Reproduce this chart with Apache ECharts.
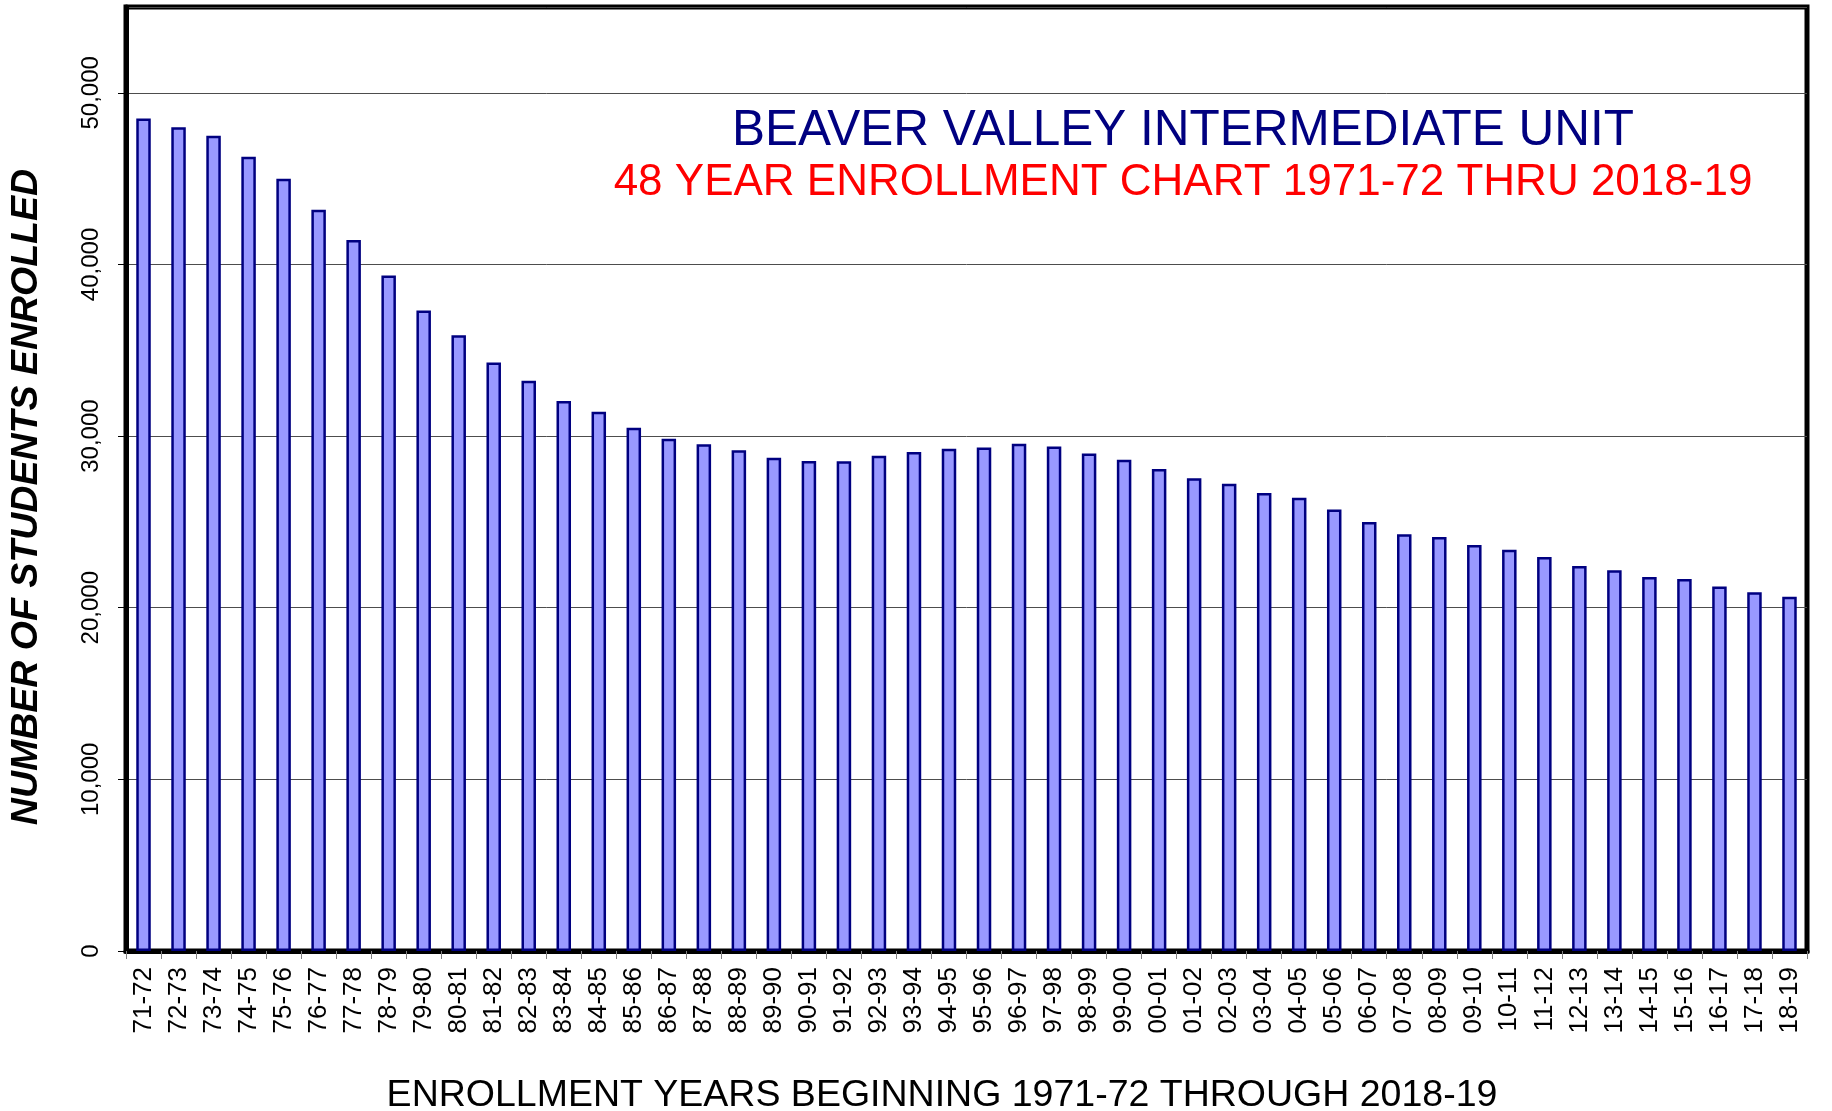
<!DOCTYPE html>
<html>
<head>
<meta charset="utf-8">
<title>Beaver Valley Intermediate Unit enrollment</title>
<script src="https://cdn.jsdelivr.net/npm/echarts@6/dist/echarts.min.js"></script>
<style>
  html, body { margin: 0; padding: 0; background: #fff; }
  #chart { width: 1832px; height: 1111px; }
</style>
</head>
<body>
<div id="chart"></div>
<script>
// school years on the x axis
const years = [
  "71-72", "72-73", "73-74", "74-75", "75-76", "76-77", "77-78", "78-79",
  "79-80", "80-81", "81-82", "82-83", "83-84", "84-85", "85-86", "86-87",
  "87-88", "88-89", "89-90", "90-91", "91-92", "92-93", "93-94", "94-95",
  "95-96", "96-97", "97-98", "98-99", "99-00", "00-01", "01-02", "02-03",
  "03-04", "04-05", "05-06", "06-07", "07-08", "08-09", "09-10", "10-11",
  "11-12", "12-13", "13-14", "14-15", "15-16", "16-17", "17-18", "18-19"
];
// students enrolled
const enrolled = [
  48500, 48000, 47500, 46270, 45000, 43180, 41420, 39360,
  37320, 35880, 34290, 33220, 32040, 31420, 30490, 29850,
  29520, 29170, 28740, 28550, 28530, 28860, 29070, 29260,
  29340, 29560, 29400, 28990, 28620, 28080, 27540, 27220,
  26680, 26410, 25730, 24990, 24280, 24120, 23650, 23380,
  22950, 22430, 22180, 21790, 21670, 21230, 20900, 20640
];
const yMax = 55000;
const yStep = 10000;

const titleText = "BEAVER VALLEY INTERMEDIATE UNIT";
const subtitleText = "48 YEAR ENROLLMENT CHART 1971-72 THRU 2018-19";
const xTitle = "ENROLLMENT YEARS BEGINNING 1971-72 THROUGH 2018-19";
const yTitle = "NUMBER OF STUDENTS ENROLLED";

const font = "'Liberation Sans', Arial, Helvetica, sans-serif";

const chart = echarts.init(document.getElementById("chart"));

// centred text block used for titles
function label(text, x, y, size, color, rotation) {
  return {
    type: "text",
    x: x,
    y: y,
    rotation: rotation || 0,
    style: {
      text: text,
      fill: color,
      font: size,
      align: "center",
      verticalAlign: "middle"
    }
  };
}

const option = {
  animation: false,
  backgroundColor: "#fff",
  grid: {
    left: 126,
    right: 25,
    top: 7,
    bottom: 160,
    show: true,
    borderColor: "#000",
    borderWidth: 5
  },
  xAxis: {
    type: "category",
    data: years,
    axisLine: { show: true, lineStyle: { color: "#000", width: 5 } },
    axisTick: { show: true, length: 8, lineStyle: { color: "#808080", width: 1 } },
    axisLabel: {
      interval: 0,
      rotate: 90,
      margin: 16,
      color: "#000",
      fontFamily: font,
      fontSize: 26
    },
    splitLine: { show: false }
  },
  yAxis: {
    type: "value",
    min: 0,
    max: yMax,
    interval: yStep,
    axisLine: { show: true, lineStyle: { color: "#000", width: 5 } },
    axisTick: { show: true, length: 8, lineStyle: { color: "#000", width: 1 } },
    axisLabel: {
      rotate: 90,
      margin: 23,
      showMaxLabel: false,
      color: "#000",
      fontFamily: font,
      fontSize: 24,
      formatter: function (v) {
        return v.toLocaleString("en-US");
      }
    },
    splitLine: { show: true, lineStyle: { color: "#4d4d4d", width: 1 } }
  },
  series: [
    {
      type: "bar",
      data: enrolled,
      barWidth: 14.5,
      itemStyle: {
        color: "#9999FF",
        borderColor: "#000080",
        borderWidth: 2.5
      }
    }
  ],
  graphic: [
    label(titleText, 1183, 131, "49.5px " + font, "#000080"),
    label(subtitleText, 1183, 183, "44px " + font, "#FF0000"),
    label(xTitle, 942, 1096, "37.5px " + font, "#000"),
    label(yTitle, 27, 497, "italic bold 37.5px " + font, "#000", Math.PI / 2)
  ]
};

chart.setOption(option);
</script>
</body>
</html>
